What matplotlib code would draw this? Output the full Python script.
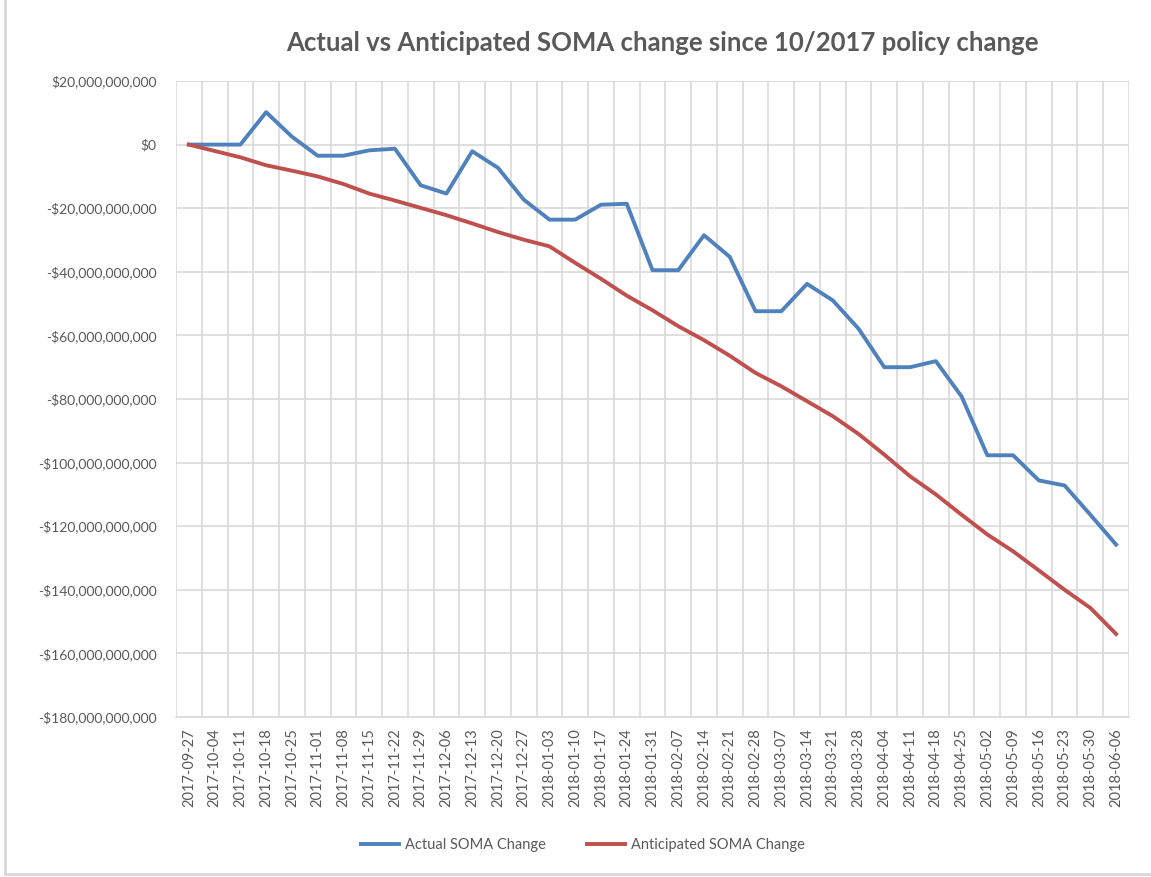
import matplotlib
matplotlib.use("Agg")
import matplotlib.pyplot as plt
from matplotlib.ticker import FuncFormatter, FixedLocator
from matplotlib.lines import Line2D

plt.rcParams['font.family'] = ['Lato', 'DejaVu Sans']

dates = ["2017-09-27", "2017-10-04", "2017-10-11", "2017-10-18", "2017-10-25",
         "2017-11-01", "2017-11-08", "2017-11-15", "2017-11-22", "2017-11-29",
         "2017-12-06", "2017-12-13", "2017-12-20", "2017-12-27", "2018-01-03",
         "2018-01-10", "2018-01-17", "2018-01-24", "2018-01-31", "2018-02-07",
         "2018-02-14", "2018-02-21", "2018-02-28", "2018-03-07", "2018-03-14",
         "2018-03-21", "2018-03-28", "2018-04-04", "2018-04-11", "2018-04-18",
         "2018-04-25", "2018-05-02", "2018-05-09", "2018-05-16", "2018-05-23",
         "2018-05-30", "2018-06-06"]

# billions of dollars
actual_b = [0, 0, 0, 10.2, 2.5, -3.5, -3.5, -1.8, -1.3, -12.8,
            -15.4, -2.1, -7.3, -17.3, -23.6, -23.6, -18.9, -18.6, -39.5, -39.5,
            -28.5, -35.3, -52.4, -52.4, -43.8, -49.0, -57.9, -70.0, -70.0, -68.1,
            -79.2, -97.7, -97.7, -105.6, -107.2, -116.4, -125.8]
anticipated_b = [0, -2.0, -4.0, -6.5, -8.2, -10.0, -12.4, -15.4, -17.6, -19.9,
                 -22.2, -24.8, -27.5, -29.9, -32.0, -37.2, -42.2, -47.5, -52.1, -57.1,
                 -61.5, -66.4, -71.8, -76.0, -80.7, -85.4, -91.0, -97.5, -104.3, -110.0,
                 -116.4, -122.6, -127.9, -133.9, -140.0, -145.7, -153.9]

actual = [v * 1e9 for v in actual_b]
anticipated = [v * 1e9 for v in anticipated_b]

text_c = '#595959'
grid_c = '#D9D9D9'

fig = plt.figure(figsize=(11.51, 8.77), dpi=100)
ax = fig.add_axes([176/1151, 1 - 717/877, (1129-176)/1151, (717-81)/877])

x = list(range(len(dates)))
ax.plot(x, actual, color='#4F81BD', lw=2.8, label='Actual SOMA Change', solid_joinstyle='round')
ax.plot(x, anticipated, color='#C0504D', lw=2.8, label='Anticipated SOMA Change', solid_joinstyle='round')

ax.set_xlim(-0.5, len(dates) - 0.5)
ax.set_ylim(-180e9, 20e9)
ax.set_yticks([v * 1e9 for v in range(-180, 21, 20)])

def money(v, pos):
    s = '${:,.0f}'.format(abs(v))
    return '-' + s if v < 0 else s
ax.yaxis.set_major_formatter(FuncFormatter(money))

ax.set_xticks(x)
ax.set_xticklabels(dates, rotation=90)
ax.xaxis.set_minor_locator(FixedLocator([i + 0.5 for i in range(-1, len(dates))]))
ax.grid(True, axis='y', which='major', color=grid_c, lw=1.2)
ax.grid(True, axis='x', which='minor', color=grid_c, lw=1.2)
ax.set_axisbelow(True)
ax.tick_params(axis='both', which='both', length=0, colors=text_c, labelsize=10)
ax.tick_params(axis='x', pad=8, labelsize=10.5)
ax.tick_params(axis='y', pad=14)
for sp in ax.spines.values():
    sp.set_visible(False)
ax.spines['bottom'].set_visible(True)
ax.spines['bottom'].set_color(grid_c)
ax.spines['bottom'].set_linewidth(1.2)

fig.text(662/1151, 1 - 43/877, 'Actual vs Anticipated SOMA change since 10/2017 policy change',
         ha='center', va='center', fontsize=18.5, fontweight='bold', color=text_c)

fig.legend(loc='center', bbox_to_anchor=(583/1151, 1 - 845/877), ncol=2, frameon=False,
           fontsize=10.5, labelcolor=text_c, handlelength=2.6, handletextpad=0.4,
           columnspacing=2.8)

# chart border
fig.add_artist(Line2D([5/1151, 5/1151], [3/877, 1], transform=fig.transFigure, color=grid_c, lw=2))
fig.add_artist(Line2D([5/1151, 1], [3/877, 3/877], transform=fig.transFigure, color=grid_c, lw=2))

fig.savefig('out.png', dpi=100)
